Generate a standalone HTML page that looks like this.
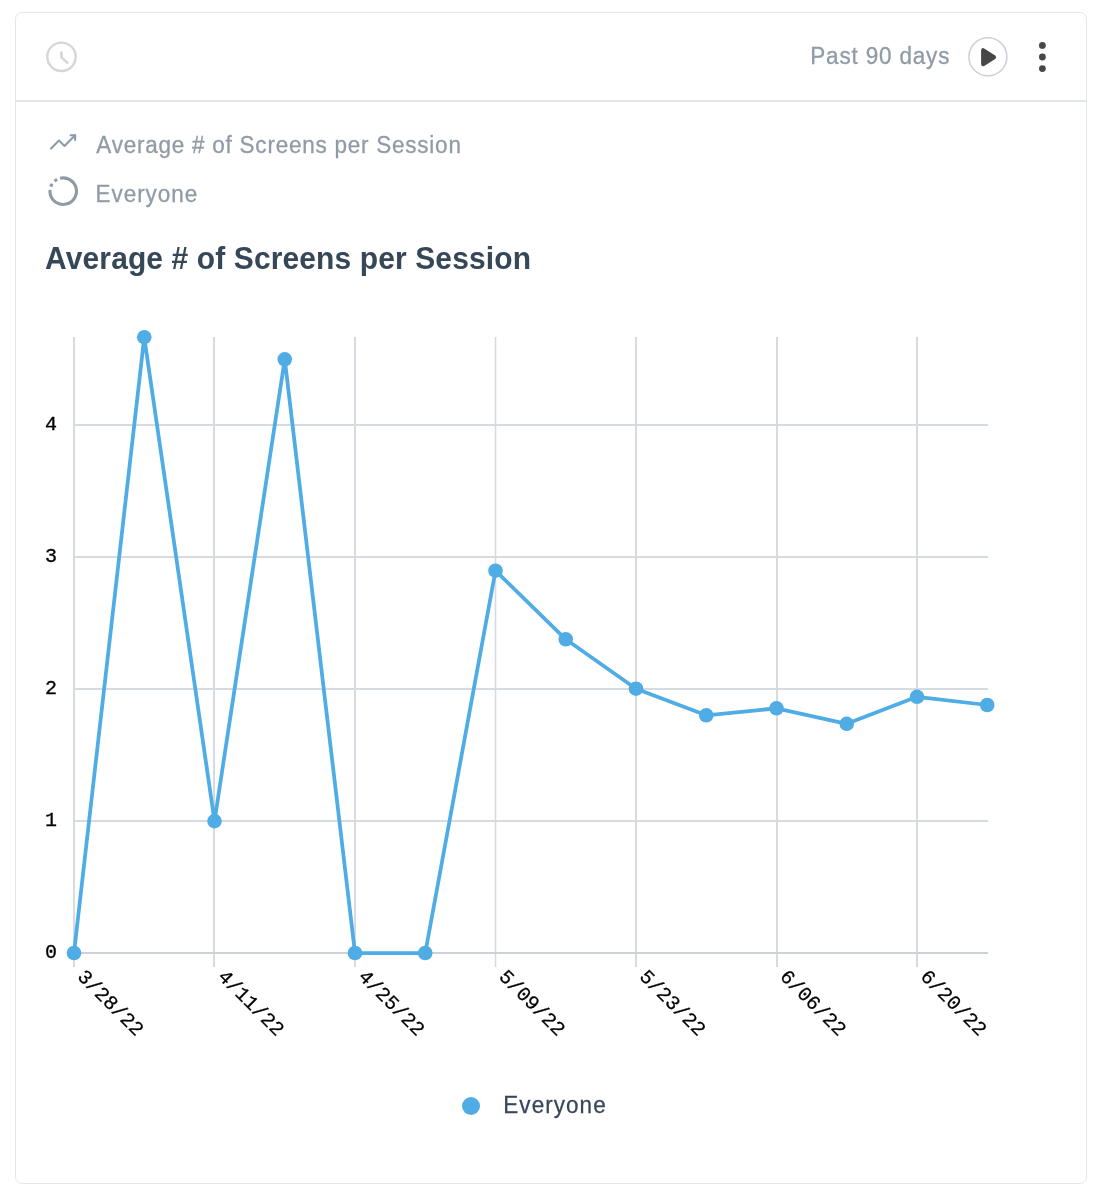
<!DOCTYPE html>
<html>
<head>
<meta charset="utf-8">
<style>
html,body{margin:0;padding:0;background:#fff;width:1102px;height:1202px;overflow:hidden}
svg{display:block;will-change:transform}
.sans{font-family:"Liberation Sans",Arial,sans-serif}
.mono{font-family:"Liberation Mono","DejaVu Sans Mono",monospace}
</style>
</head>
<body>
<svg width="1102" height="1202" viewBox="0 0 1102 1202">
  <!-- card -->
  <rect x="15.5" y="12.5" width="1071" height="1171" rx="6.5" ry="6.5" fill="#fff" stroke="#e3e6ea" stroke-width="1"/>
  <rect x="16" y="100" width="1070" height="2" fill="#e3e6ea"/>

  <!-- header: clock icon -->
  <g fill="none" stroke="#d6d6d6" stroke-width="2.4" stroke-linecap="round" stroke-linejoin="round">
    <circle cx="61.5" cy="56.8" r="14.2"/>
    <polyline points="61.4,52.5 61.4,57.4 67.4,62.7" stroke-width="2.6"/>
  </g>

  <!-- header right -->
  <text class="sans" transform="translate(810.3,63.8) scale(1,1.035)" font-size="22.5" letter-spacing="0.83" fill="#909ba7" stroke="#909ba7" stroke-width="0.3">Past 90 days</text>
  <circle cx="987.9" cy="56.8" r="19" fill="none" stroke="#cfcfdc" stroke-width="1.5"/>
  <polygon points="983.1,50.2 983.1,64.2 994.1,57.2" fill="#474747" stroke="#474747" stroke-width="4" stroke-linejoin="round"/>
  <g fill="#474747">
    <circle cx="1042.4" cy="45.4" r="3.4"/>
    <circle cx="1042.4" cy="57" r="3.4"/>
    <circle cx="1042.4" cy="68.6" r="3.4"/>
  </g>

  <!-- sub header rows -->
  <g fill="none" stroke="#8e9aa6" stroke-width="2.1" stroke-linecap="round" stroke-linejoin="round">
    <polyline points="51,148.6 59,140.6 64.5,145.9 75.15,135.25"/>
    <polyline points="70.6,135.25 75.15,135.25 75.15,139.9"/>
  </g>
  <text class="sans" transform="translate(96.3,152.8) scale(1,1.035)" font-size="22.5" letter-spacing="0.77" fill="#909ba7" stroke="#909ba7" stroke-width="0.3">Average # of Screens per Session</text>

  <circle cx="63.2" cy="191.2" r="13.25" fill="none" stroke="#8e9aa6" stroke-width="3.1" transform="rotate(256.5 63.2 191.2)" stroke-dasharray="66.49 3.35 3.0 3.58 3.0 3.83"/>
  <text class="sans" transform="translate(95.4,202) scale(1,1.035)" font-size="22.5" letter-spacing="1.0" fill="#909ba7" stroke="#909ba7" stroke-width="0.3">Everyone</text>

  <!-- title -->
  <text class="sans" transform="translate(45.1,268.8) scale(1,1.075)" font-size="30" font-weight="bold" letter-spacing="0.12" fill="#364758">Average # of Screens per Session</text>

  <!-- grid -->
  <g stroke="#d6dbe2" stroke-width="2">
    <line x1="74" y1="337" x2="74" y2="967"/>
    <line x1="214" y1="337" x2="214" y2="967"/>
    <line x1="355" y1="337" x2="355" y2="967"/>
    <line x1="495.5" y1="337" x2="495.5" y2="967" stroke-width="1.6"/>
    <line x1="636" y1="337" x2="636" y2="967"/>
    <line x1="777" y1="337" x2="777" y2="967"/>
    <line x1="917" y1="337" x2="917" y2="967"/>
    <line x1="73" y1="425" x2="988" y2="425"/>
    <line x1="73" y1="557" x2="988" y2="557"/>
    <line x1="73" y1="689" x2="988" y2="689"/>
    <line x1="73" y1="821" x2="988" y2="821"/>
  </g>
  <line x1="73" y1="953" x2="988" y2="953" stroke="#cbd2da" stroke-width="2"/>

  <!-- y labels -->
  <g class="mono" font-size="20" fill="#000" text-anchor="end" stroke="#000" stroke-width="0.3">
    <text transform="translate(57,430.3)">4</text>
    <text transform="translate(57,561.8)">3</text>
    <text transform="translate(57,693.8)">2</text>
    <text transform="translate(57,825.8)">1</text>
    <text transform="translate(57,957.8)">0</text>
  </g>

  <!-- x labels -->
  <g class="mono" font-size="20" fill="#000" stroke="#000" stroke-width="0.25">
    <text transform="translate(76.5,977.5) rotate(45)">3/28/22</text>
    <text transform="translate(217,977.5) rotate(45)">4/11/22</text>
    <text transform="translate(357.5,977.5) rotate(45)">4/25/22</text>
    <text transform="translate(498,977.5) rotate(45)">5/09/22</text>
    <text transform="translate(638.5,977.5) rotate(45)">5/23/22</text>
    <text transform="translate(779,977.5) rotate(45)">6/06/22</text>
    <text transform="translate(919.5,977.5) rotate(45)">6/20/22</text>
  </g>

  <!-- series -->
  <polyline fill="none" stroke="#4facE5" stroke-width="3.75" stroke-linejoin="round" stroke-linecap="round"
    points="74.00,953.0 144.25,337.2 214.50,821.1 284.75,359.3 355.00,953.0 425.25,953.0 495.50,570.7 565.75,639.3 636.00,688.7 706.25,715.3 776.50,708.3 846.75,723.8 917.00,696.8 987.25,705.0"/>
  <g fill="#4facE5">
    <circle cx="74" cy="953" r="7.3"/>
    <circle cx="144.25" cy="337.2" r="7.3"/>
    <circle cx="214.5" cy="821.1" r="7.3"/>
    <circle cx="284.75" cy="359.3" r="7.3"/>
    <circle cx="355" cy="953" r="7.3"/>
    <circle cx="425.25" cy="953" r="7.3"/>
    <circle cx="495.5" cy="570.7" r="7.3"/>
    <circle cx="565.75" cy="639.3" r="7.3"/>
    <circle cx="636" cy="688.7" r="7.3"/>
    <circle cx="706.25" cy="715.3" r="7.3"/>
    <circle cx="776.5" cy="708.3" r="7.3"/>
    <circle cx="846.75" cy="723.8" r="7.3"/>
    <circle cx="917" cy="696.8" r="7.3"/>
    <circle cx="987.25" cy="705" r="7.3"/>
  </g>

  <!-- legend -->
  <circle cx="471" cy="1106" r="9" fill="#4facE5"/>
  <text class="sans" transform="translate(503.3,1112.8) scale(1,1.055)" font-size="22.5" letter-spacing="1.05" fill="#36475a" stroke="#36475a" stroke-width="0.25">Everyone</text>
</svg>
</body>
</html>
